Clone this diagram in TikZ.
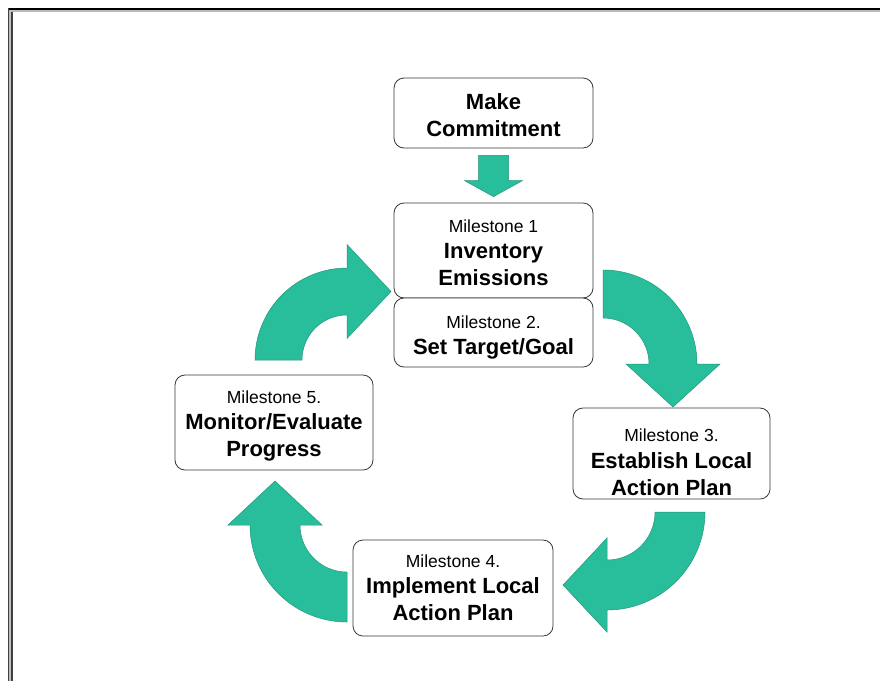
\documentclass[tikz,border=0pt]{standalone}
\usepackage{fontspec}
\setmainfont{Liberation Sans}
\usetikzlibrary{calc}
\definecolor{arrowteal}{RGB}{40,190,155}
\definecolor{arrowedge}{RGB}{35,150,120}
\definecolor{boxedge}{RGB}{55,55,55}
\newcommand{\boldtxt}{\fontsize{22}{27}\selectfont\bfseries}
\newcommand{\smalltxt}{\fontsize{17.5}{21}\selectfont\mdseries}
% cx cy ri ro startangle headangle headhalfwidth headdepth
\newcommand{\curvedblockarrow}[8]{%
  \pgfmathsetmacro{\cbrm}{(#3+#4)/2}%
  \filldraw[blockarrow]
    plot[domain=#5:#6, samples=50] ({#1+#4*cos(\x)},{#2+#4*sin(\x)})
    -- ({#1+(\cbrm+#7)*cos(#6)},{#2+(\cbrm+#7)*sin(#6)})
    -- ({#1+\cbrm*cos(#6)-#8*sin(#6)},{#2+\cbrm*sin(#6)+#8*cos(#6)})
    -- ({#1+(\cbrm-#7)*cos(#6)},{#2+(\cbrm-#7)*sin(#6)})
    -- plot[domain=#6:#5, samples=50] ({#1+#3*cos(\x)},{#2+#3*sin(\x)})
    -- cycle;
}
\tikzset{
  mbox/.style={draw=boxedge, line width=0.8pt, rounded corners=10pt, fill=white, inner sep=0pt},
  mtext/.style={align=center, inner sep=0pt, font=\boldtxt, text=black},
  blockarrow/.style={fill=arrowteal, draw=arrowedge, line width=0.5pt, line join=miter}
}
\begin{document}
\begin{tikzpicture}[x=1pt, y=-1pt]
\useasboundingbox (0,0) rectangle (880,681);
\fill[white] (0,0) rectangle (880,681);
% frame
\fill[black] (8,8) rectangle (880,10.3);
\fill[gray!55] (10,10.3) rectangle (880,11.8);
\fill[black!75] (8,8) rectangle (9.4,681);
\fill[gray!50] (9.4,10.3) rectangle (11,681);
\fill[black!75] (11,11.8) rectangle (12.7,681);

% boxes
\node[mbox, minimum width=199pt, minimum height=70pt] (commit) at (493.5,113) {};
\node[mbox, minimum width=199pt, minimum height=95pt] (m1) at (493.5,250.5) {};
\node[mbox, minimum width=199pt, minimum height=69pt] (m2) at (493.5,332.5) {};
\node[mbox, minimum width=197pt, minimum height=91pt] (m3) at (671.5,453.5) {};
\node[mbox, minimum width=200pt, minimum height=96pt] (m4) at (453,588) {};
\node[mbox, minimum width=198pt, minimum height=95pt] (m5) at (274,422.5) {};

% texts
\node[mtext] (committext) at ($(commit.center)+(0,2.5)$) {Make\\Commitment};
\node[mtext] (m1text) at ($(m1.center)+(0,2)$)
  {{\smalltxt Milestone 1}\\[-1pt]Inventory\\Emissions};
\node[mtext] (m2text) at ($(m2.center)+(0,5)$)
  {{\smalltxt Milestone 2.}\\[-1pt]Set Target/Goal};
\node[mtext] (m3text) at ($(m3.center)+(0,9)$)
  {{\smalltxt Milestone 3.}\\[0pt]Establish Local\\Action Plan};
\node[mtext] (m4text) at ($(m4.center)+(0,0)$)
  {{\smalltxt Milestone 4.}\\[-1pt]Implement Local\\Action Plan};
\node[mtext] (m5text) at ($(m5.center)+(0,3)$)
  {{\smalltxt Milestone 5.}\\[-1pt]Monitor/Evaluate\\Progress};

% straight block arrow commit -> m1
\filldraw[blockarrow]
  ($(commit.south)+(-15,7)$) -- ($(commit.south)+(15,7)$)
  -- ($(m1.north)+(15,-22)$) -- ($(m1.north)+(29,-22)$)
  -- ($(m1.north)+(0,-6)$)
  -- ($(m1.north)+(-29,-22)$) -- ($(m1.north)+(-15,-22)$) -- cycle;

% curved block arrows (clockwise cycle)
\curvedblockarrow{603}{364}{46}{94}{-90}{0}{47}{43}   % m1 -> m3
\curvedblockarrow{607}{512}{48}{98}{0}{90}{47}{44}    % m3 -> m4
\curvedblockarrow{347}{525}{47}{97}{90}{180}{47}{44}  % m4 -> m5
\curvedblockarrow{347}{360}{45}{92}{180}{270}{47}{44} % m5 -> m1
\end{tikzpicture}
\end{document}
